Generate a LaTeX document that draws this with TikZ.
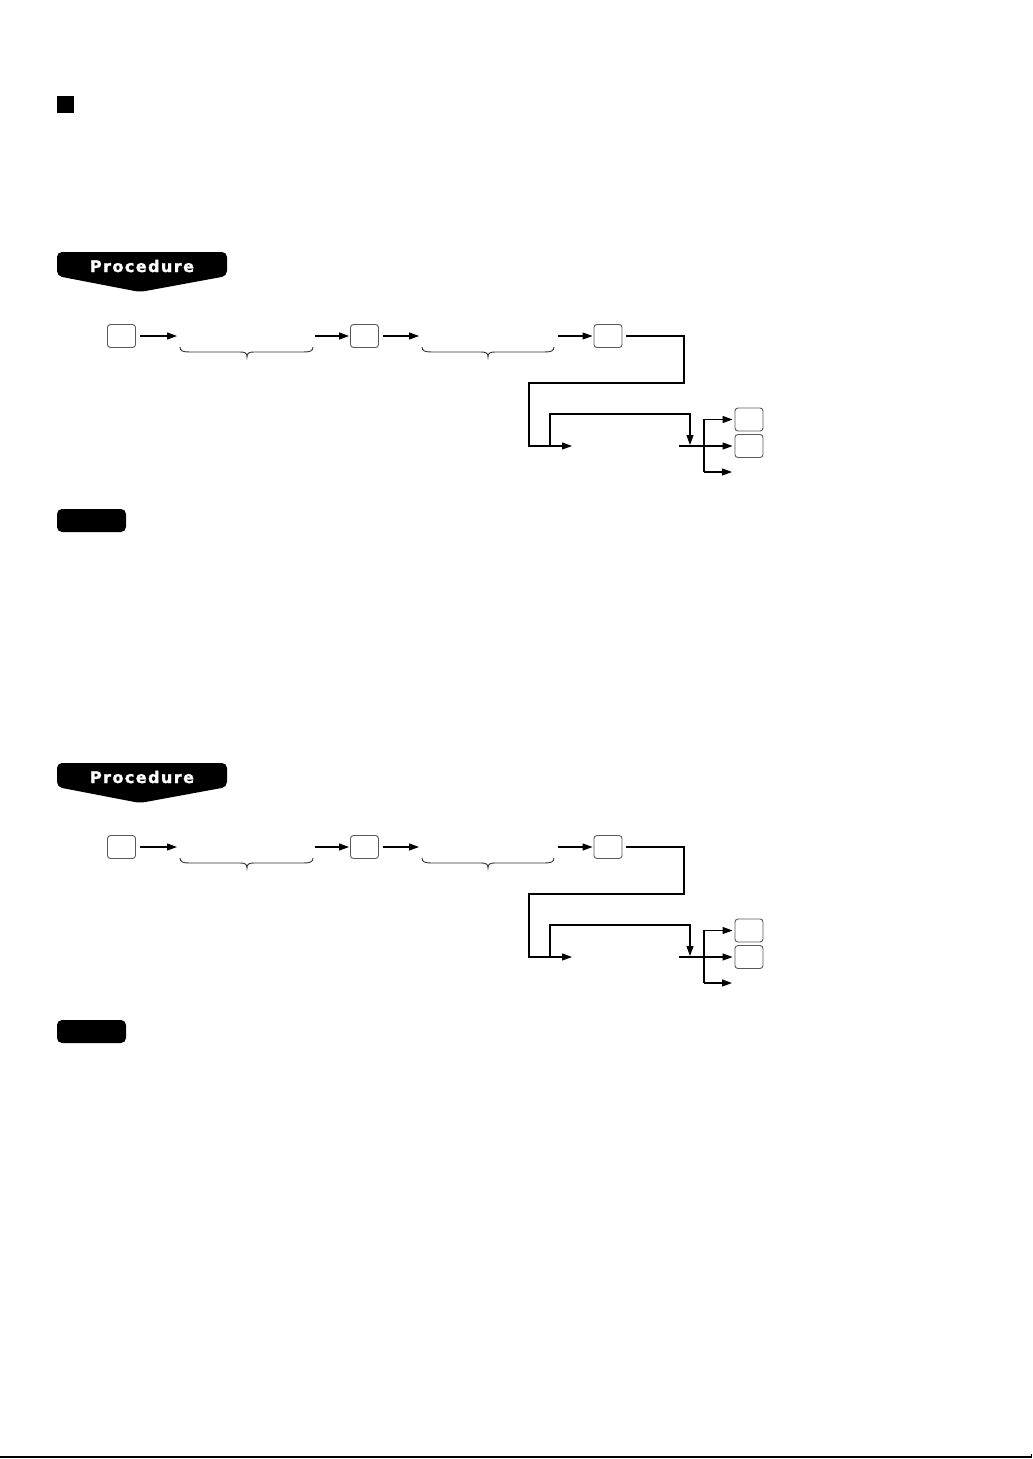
\documentclass[tikz,border=0pt]{standalone}
\usepackage{fontspec}
\newfontfamily\bannerfont[LetterSpace=9,BoldFeatures={FakeBold=1.5}]{DejaVu Sans}
\usetikzlibrary{arrows.meta}
\tikzset{
  keybox/.style={draw=black!65, line width=0.9pt, rounded corners=3pt, minimum width=28pt, minimum height=23pt, inner sep=0pt},
  conn/.style={line width=1.1pt, draw=black},
  arr/.style={conn, -{Triangle[length=10pt,width=7pt]}},
  notebox/.style={fill=black, rounded corners=5pt, minimum width=69pt, minimum height=23pt, inner sep=0pt},
  bracestyle/.style={line width=0.9pt, draw=black!80},
  bannertxt/.style={text=white, anchor=base, inner sep=0pt, font=\bannerfont\bfseries\fontsize{16}{16}\selectfont},
}
\begin{document}
\begin{tikzpicture}[x=1pt,y=-1pt]
\useasboundingbox (0,0) rectangle (1033,1459);
\fill[white] (0,0) rectangle (1033,1459);
\node[fill=black, minimum size=17pt, inner sep=0pt] (sq) at (65.5,104.5) {};
\foreach \o/\p in {0/a,511/b} {
\begin{scope}[yshift=-\o pt]
  % banner
  \fill[black, rounded corners=5pt] (140,292) -- (57,276) -- (57,252) -- (227,252) -- (227,276) -- cycle;
  \node[bannertxt] (\p-ban) at (142,272) {Procedure};
  % first row
  \node[keybox] (\p-k1) at (121.5,336) {};
  \coordinate (\p-b1l) at (177,336);
  \coordinate (\p-b1r) at (315,336);
  \node[keybox] (\p-k2) at (364.5,336) {};
  \coordinate (\p-b2l) at (419,336);
  \coordinate (\p-b2r) at (558,336);
  \node[keybox] (\p-k3) at (608,336) {};
  \draw[arr] ([xshift=4pt]\p-k1.east) -- (\p-b1l);
  \draw[arr] (\p-b1r) -- ([xshift=-1pt]\p-k2.west);
  \draw[arr] ([xshift=4pt]\p-k2.east) -- (\p-b2l);
  \draw[arr] (\p-b2r) -- ([xshift=-1pt]\p-k3.west);
  % braces
  \draw[bracestyle] (180,347) .. controls (180,351) and (183,352) .. (190,352) -- (240,352) .. controls (245,352) and (247,353) .. (247,357) .. controls (247,353) and (249,352) .. (254,352) -- (303,352) .. controls (310,352) and (313,351) .. (313,347);
  \draw[bracestyle] (422,347) .. controls (422,351) and (425,352) .. (432,352) -- (481,352) .. controls (486,352) and (488,353) .. (488,357) .. controls (488,353) and (490,352) .. (495,352) -- (544,352) .. controls (551,352) and (554,351) .. (554,347);
  % route down
  \coordinate (\p-r1) at (684,383);
  \coordinate (\p-r2) at (529,446);
  \coordinate (\p-m) at (572,446);
  \draw[arr] ([xshift=4pt]\p-k3.east) -| (\p-r1) -| (\p-r2) -- (\p-m);
  % loop
  \coordinate (\p-l1) at (550,446);
  \coordinate (\p-l2) at (690,414);
  \coordinate (\p-j) at (690,445);
  \draw[arr] (\p-l1) |- (\p-l2) -- (\p-j);
  % branch boxes
  \node[keybox] (\p-k4) at (749,419.5) {};
  \node[keybox] (\p-k5) at (749,446) {};
  \coordinate (\p-o) at (679,446);
  \coordinate (\p-v2) at (704,472);
  \coordinate (\p-e3) at (732,472);
  \draw[arr] (\p-o) -- ([xshift=-2pt]\p-k5.west);
  \draw[arr] (\p-v2) |- ([xshift=-2pt]\p-k4.west);
  \draw[arr] (\p-v2) -- (\p-e3);
  % note tag
  \node[notebox] (\p-note) at (91.5,520.5) {};
\end{scope}
}
\draw[line width=2pt] (0,1457) -- (1031,1457);
\draw[line width=1pt] (1031.5,1458) -- (1031.5,1454);
\end{tikzpicture}
\end{document}
